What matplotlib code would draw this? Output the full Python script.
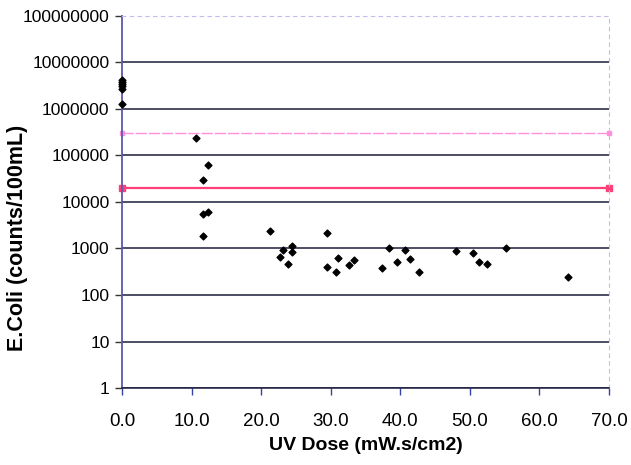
import matplotlib
matplotlib.use("Agg")
import matplotlib.pyplot as plt
import numpy as np

plt.rcParams['font.family'] = ['Liberation Sans', 'DejaVu Sans']

# UV dose (mW.s/cm2) and E.Coli counts (counts/100mL)
uv_dose = [0.0, 0.0, 0.0, 0.0, 0.0, 0.0,
           10.7, 12.3, 11.6, 11.6, 12.4, 11.7,
           21.3, 23.1, 24.5, 24.5, 22.7, 23.8,
           29.5, 29.4, 31.0, 30.8, 32.7, 33.3,
           37.3, 38.4, 39.5, 40.7, 41.4, 42.7,
           48.0, 50.5, 51.3, 52.4, 55.2, 64.1]
ecoli = [4.25e6, 3.77e6, 3.41e6, 3.05e6, 2.72e6, 1.27e6,
         238000, 62500, 29700, 5430, 6100, 1830,
         2380, 930, 1150, 830, 656, 471,
         2150, 400, 615, 318, 435, 566,
         375, 1030, 520, 930, 604, 313,
         898, 800, 520, 471, 1025, 244]

limit_pink = 300000
limit_red = 20000
x_ticks = [0, 10, 20, 30, 40, 50, 60, 70]
x_tick_labels = ["0.0", "10.0", "20.0", "30.0", "40.0", "50.0", "60.0", "70.0"]
y_ticks = [1, 10, 100, 1000, 10000, 100000, 1000000, 10000000, 100000000]
y_tick_labels = ["1", "10", "100", "1000", "10000", "100000", "1000000", "10000000", "100000000"]

fig = plt.figure(figsize=(6.31, 4.65), dpi=100)
ax = fig.add_axes([122/631, 1-388/465, (609-122)/631, (388-16)/465])

ax.set_yscale('log')
ax.set_xlim(0, 70)
ax.set_ylim(1, 1e8)

# horizontal gridlines at decades
for yv in y_ticks[:-1]:
    ax.axhline(yv, color='#1c1c3c', lw=1.1, zorder=1)

# reference lines
ax.plot([0, 70], [limit_pink, limit_pink], color='#ff8fdc', lw=1.0, ls=(0, (8, 1.5)),
        marker='s', markersize=3, zorder=2, clip_on=False)
ax.plot([0, 70], [limit_red, limit_red], color='#ff3f78', lw=1.6,
        marker='s', markersize=4, zorder=2, clip_on=False)

ax.scatter(uv_dose, ecoli, marker='D', s=12, color='black', zorder=3, clip_on=False)

ax.set_xticks(x_ticks)
ax.set_xticklabels(x_tick_labels)
ax.set_yticks(y_ticks)
ax.set_yticklabels(y_tick_labels)
ax.yaxis.set_minor_locator(matplotlib.ticker.NullLocator())

ax.tick_params(axis='x', direction='out', length=5, width=1, color='#3344aa', pad=13, labelsize=13.5)
ax.tick_params(axis='y', direction='out', length=5, width=1, color='#333333', pad=4, labelsize=12.5)

for s in ['top', 'right']:
    ax.spines[s].set_color('#c8b8ee')
    ax.spines[s].set_linestyle((0, (3, 4)))
    ax.spines[s].set_linewidth(0.8)
ax.spines['left'].set_color('#5a5aaa')
ax.spines['left'].set_linewidth(1.3)
ax.spines['bottom'].set_color('#1c1c3c')
ax.spines['bottom'].set_linewidth(1.1)

ax.set_xlabel('UV Dose (mW.s/cm2)', fontsize=14, fontweight='bold', labelpad=5)
fig.text(18/631, 1-238/465, 'E.Coli (counts/100mL)', rotation=90, ha='center', va='center',
         fontsize=15.5, fontweight='bold')

fig.savefig('out.png', dpi=100)
